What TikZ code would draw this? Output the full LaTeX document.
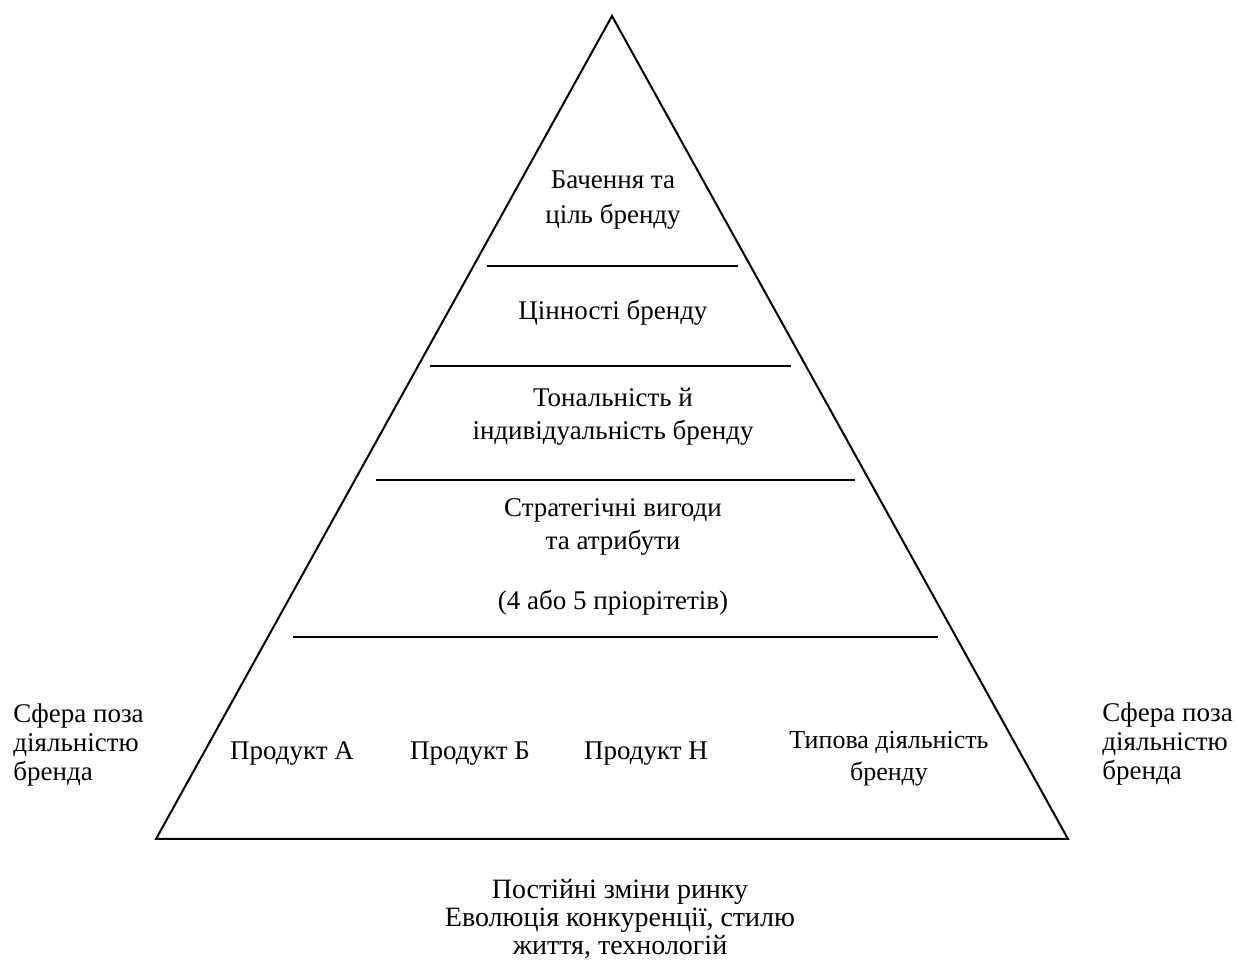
\documentclass[tikz,border=0pt]{standalone}
\usepackage{fontspec}
\setmainfont{Liberation Serif}

\begin{document}
\begin{tikzpicture}[x=0.5pt,y=-0.5pt,
  lbl/.style={font=\fontsize{13.5}{17}\selectfont,align=center,inner sep=0pt,anchor=base},
  side/.style={font=\fontsize{13.5}{14.6}\selectfont,align=left,inner sep=0pt,anchor=base west}]
\useasboundingbox (0,0) rectangle (1237,961);
\coordinate (apex) at (612,16);
\coordinate (bl) at (156,839);
\coordinate (br) at (1068,839);
\draw[line width=1pt] (apex) -- (bl) -- (br) -- cycle;
% level lines
\draw[line width=1pt] (487,266) coordinate (l1a) -- (738,266) coordinate (l1b);
\draw[line width=1pt] (430,366) coordinate (l2a) -- (791,366) coordinate (l2b);
\draw[line width=1pt] (376,480) coordinate (l3a) -- (855,480) coordinate (l3b);
\draw[line width=1pt] (293,637) coordinate (l4a) -- (938,637) coordinate (l4b);
% levels (base = last line)
\node[lbl,font=\fontsize{13.5}{17.5}\selectfont] (vision) at (613,224) {Бачення та\\ціль бренду};
\node[lbl] (values) at (613,320) {Цінності бренду};
\node[lbl,font=\fontsize{13.5}{16.5}\selectfont] (tone) at (613,440) {Тональність й\\індивідуальність бренду};
\node[lbl,font=\fontsize{13.5}{16.5}\selectfont] (benefits) at (613,550) {Стратегічні вигоди\\та атрибути};
\node[lbl] (prior) at (613,610) {(4 або 5 пріорітетів)};
% base level
\node[lbl] (prodA) at (292,760) {Продукт А};
\node[lbl] (prodB) at (470,760) {Продукт Б};
\node[lbl] (prodN) at (646,760) {Продукт Н};
\node[lbl,font=\fontsize{13}{16}\selectfont] (typical) at (889,781) {Типова діяльність\\бренду};
% outside
\node[side] (outL) at (13,781) {Сфера поза\\діяльністю\\бренда};
\node[side] (outR) at (1102,780) {Сфера поза\\діяльністю\\бренда};
\node[lbl,font=\fontsize{14}{14}\selectfont] (market) at (620,954) {Постійні зміни ринку\\Еволюція конкуренції, стилю\\життя, технологій};
\end{tikzpicture}
\end{document}
